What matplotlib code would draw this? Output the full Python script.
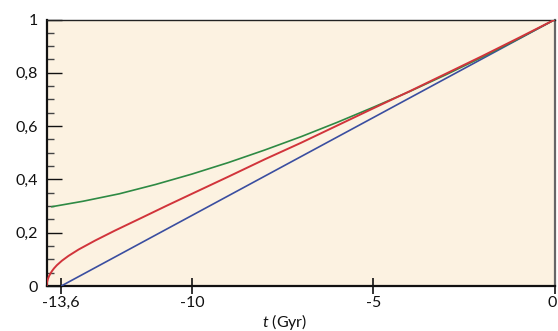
import numpy as np
import matplotlib
matplotlib.use("Agg")
import matplotlib.pyplot as plt
import matplotlib.transforms as mtransforms
from matplotlib.ticker import FixedLocator, MultipleLocator

# ---- data ----
blue_t = [-13.6, 0.0]
blue_a = [0.0, 1.0]

red_t = [-14.0, -13.995, -13.99, -13.97, -13.94, -13.9, -13.86, -13.8, -13.72,
         -13.58, -13.4, -13.12, -12.66, -12.12, -11.4, -10.7, -10.0, -9.0,
         -8.0, -7.0, -6.0, -5.0, -4.0, -3.0, -2.0, -1.0, 0.0]
red_a = [0.0, 0.010, 0.0147, 0.025, 0.036, 0.046, 0.055, 0.066, 0.078,
         0.095, 0.113, 0.137, 0.171, 0.208, 0.255, 0.301, 0.346, 0.410,
         0.475, 0.537, 0.602, 0.667, 0.731, 0.797, 0.863, 0.931, 1.0]

green_t = [-13.88, -13.0, -12.0, -11.0, -10.0, -9.0, -8.0, -7.0, -6.0,
           -5.0, -4.0, -3.0, -2.0, -1.0, 0.0]
green_a = [0.297, 0.318, 0.346, 0.381, 0.420, 0.463, 0.510, 0.560, 0.614,
           0.671, 0.730, 0.793, 0.859, 0.928, 1.0]

x_ticks = [-13.6, -10, -5, 0]
x_ticklabels = ["-13,6", "-10", "-5", "0"]
y_ticks = [0, 0.2, 0.4, 0.6, 0.8, 1.0]
y_ticklabels = ["0", "0,2", "0,4", "0,6", "0,8", "1"]

plt.rcParams['font.family'] = ['Lato', 'DejaVu Sans']
plt.rcParams['mathtext.fontset'] = 'custom'
plt.rcParams['mathtext.it'] = 'Lato:italic'
plt.rcParams['mathtext.rm'] = 'Lato'

fig = plt.figure(figsize=(5.58, 3.31), dpi=100)
ax = fig.add_axes([46.7/558, 1-286/331, (555-46.7)/558, (286-19.5)/331])
ax.set_facecolor('#fcf2e1')

lw = 1.2
ax.plot(blue_t, blue_a, color='#3a4ea0', lw=lw, solid_capstyle='butt', zorder=3)
ax.plot(green_t, green_a, color='#2e8a44', lw=lw, solid_capstyle='butt',
        solid_joinstyle='round', zorder=4)
ax.plot(red_t, red_a, color='#d1343b', lw=lw+0.2, solid_capstyle='butt',
        solid_joinstyle='round', zorder=5)

ax.set_xlim(-14, 0)
ax.set_ylim(0, 1)

ax.xaxis.set_major_locator(FixedLocator(x_ticks))
ax.set_xticklabels(x_ticklabels)
ax.yaxis.set_major_locator(FixedLocator(y_ticks))
ax.set_yticklabels(y_ticklabels)
ax.yaxis.set_minor_locator(MultipleLocator(0.05))

ax.tick_params(axis='x', which='major', direction='inout', length=12, width=1.2,
               labelsize=11.5, pad=1, colors='#111111')
ax.tick_params(axis='y', which='major', direction='in', length=10.5, width=1.0,
               labelsize=11.5, pad=6, colors='#111111')
ax.tick_params(axis='y', which='minor', direction='in', length=5, width=1.0,
               color='#444444')

# nudge the last x label so it stays inside the canvas
lab = ax.get_xticklabels()[-1]
lab.set_transform(lab.get_transform() +
                  mtransforms.ScaledTranslation(-3/100, 0, fig.dpi_scale_trans))

for s in ['left', 'bottom']:
    ax.spines[s].set_linewidth(1.6)
    ax.spines[s].set_color('#111111')
ax.spines['top'].set_linewidth(1.0)
ax.spines['top'].set_color('#222222')
ax.spines['right'].set_linewidth(1.6)
ax.spines['right'].set_color('#666666')

fig.text(285/558, 1-321.5/331, r'$\mathit{t}$ (Gyr)', ha='center', va='center',
         fontsize=11.5, color='#111111')

fig.savefig('out.png', dpi=100)
